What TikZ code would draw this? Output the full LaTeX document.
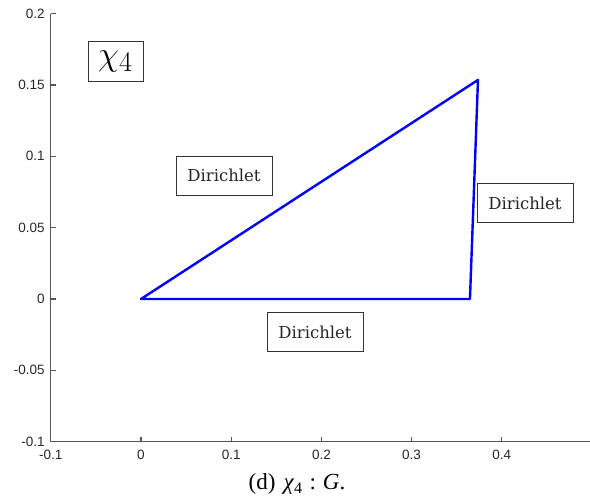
\documentclass[tikz,border=0pt]{standalone}
\usepackage{graphicx}
\usepackage{fontspec}
\newfontfamily\ticksfont{Liberation Sans}
\newfontfamily\boxfont{DejaVu Serif}
\newfontfamily\captfont{Liberation Serif}
\definecolor{axisgray}{HTML}{555555}
\definecolor{matblue}{HTML}{0000FF}
\tikzset{
  axisline/.style={draw=axisgray, line width=1.4pt},
  tickline/.style={draw=axisgray, line width=1.2pt},
  ticklab/.style={font=\ticksfont\fontsize{13.5}{14}\selectfont, text=black!85, inner sep=0pt},
  bclabel/.style={draw=black!80, line width=0.8pt, fill=white, font=\boxfont\fontsize{16.5}{18}\selectfont,
                  minimum width=96pt, minimum height=39pt, inner sep=0pt, text=black!85},
  edge/.style={draw=matblue, line width=2.4pt, line join=round, line cap=round}
}
\begin{document}
\begin{tikzpicture}[x=1pt,y=1pt]
\useasboundingbox (0,0) rectangle (590,502);
\begin{scope}[shift={(141pt,203pt)}, x=902pt, y=1427pt]
  % axes
  \coordinate (org) at (-0.1,-0.1);
  \coordinate (ytop) at (-0.1,0.2);
  \coordinate (xend) at (0.5,-0.1);
  \draw[axisline] (ytop) -- (org) -- (xend);
  % x ticks
  \foreach \v/\l [count=\i] in {-0.1/-0.1,0/0,0.1/0.1,0.2/0.2,0.3/0.3,0.4/0.4}{
    \coordinate (xt\i) at (\v,-0.1);
    \draw[tickline] (xt\i) -- ++(0pt,5pt);
    \node[ticklab, anchor=north] (xl\i) at ([yshift=-8pt]xt\i) {\l};
  }
  % y ticks
  \foreach \v/\l [count=\i] in {-0.1/-0.1,-0.05/-0.05,0/0,0.05/0.05,0.1/0.1,0.15/0.15,0.2/0.2}{
    \coordinate (yt\i) at (-0.1,\v);
    \draw[tickline] (yt\i) -- ++(5pt,0pt);
    \node[ticklab, anchor=east] (yl\i) at ([xshift=-6pt]yt\i) {\l};
  }
  % triangle
  \coordinate (O) at (0,0);
  \coordinate (A) at (0.3736,0.1535);
  \coordinate (B) at (0.3647,0);
  \draw[edge] (O) -- (A) -- (B) -- cycle;
\end{scope}
% labels
\node[bclabel] (d1) at (224,326.5) {Dirichlet};
\node[bclabel] (d2) at (525,298.6) {Dirichlet};
\node[bclabel] (d3) at (315,169.7) {Dirichlet};
\node[draw=black!80, line width=0.8pt, minimum width=55pt, minimum height=40pt, inner sep=0pt] (chi) at (115.5,441)
  {\scalebox{1.37}{\Huge$\chi_4$}};
% caption
\node[anchor=base, inner sep=0pt, font=\captfont\fontsize{23}{26}\selectfont] (cap) at (297,12)
  {(d)\hspace{0.35em}\textit{χ}\textsubscript{4}\hspace{0.3em}:\hspace{0.3em}\textit{G}.};
\end{tikzpicture}
\end{document}
